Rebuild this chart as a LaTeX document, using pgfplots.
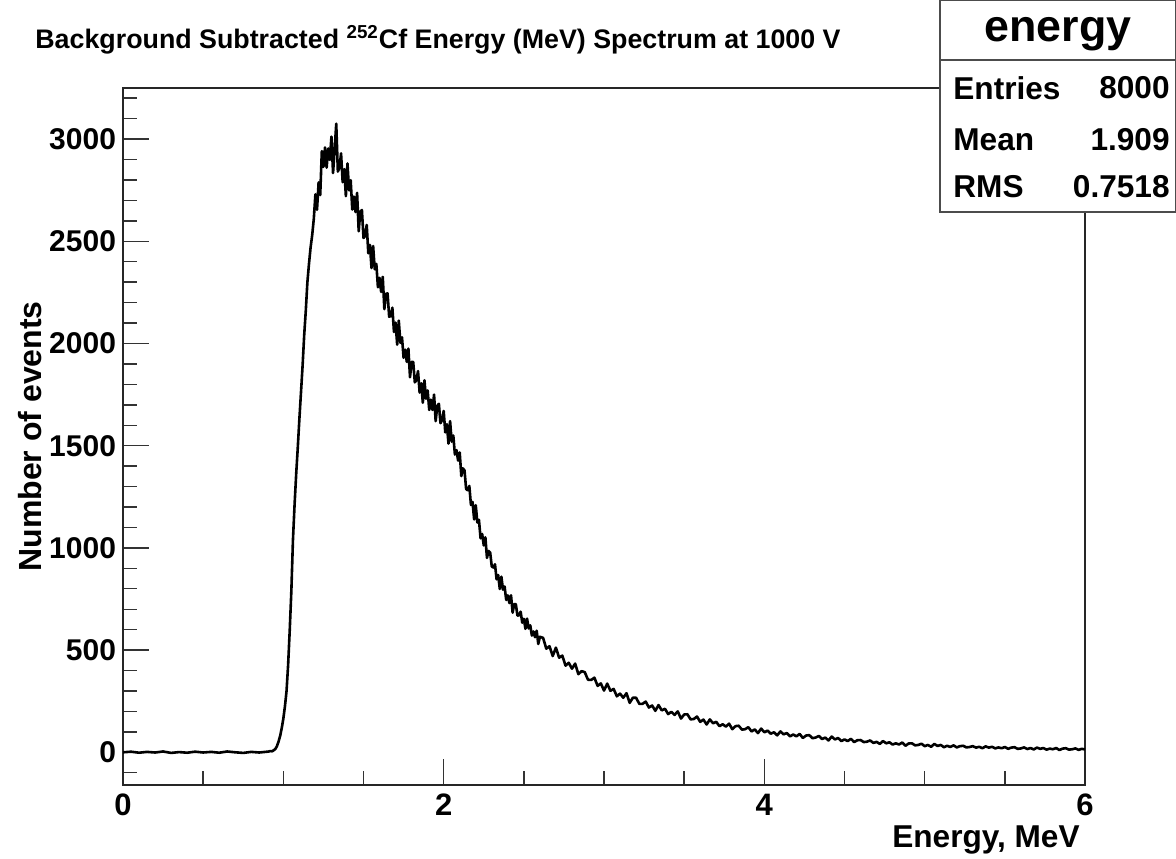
\documentclass[border=0pt]{standalone}
\usepackage{pgfplots}
\pgfplotsset{compat=1.18}
\usepackage{fontspec}
\setmainfont{Liberation Sans}
\pgfplotstableread{
x y
0.00 0
0.05 3
0.10 -2
0.15 2
0.20 -1
0.25 4
0.30 -3
0.35 1
0.40 -2
0.45 3
0.50 -1
0.55 2
0.60 -2
0.65 4
0.70 0
0.75 -3
0.80 2
0.85 -1
0.90 3
0.91 4
0.92 6
0.93 5
0.94 10
0.95 16
0.96 30
0.97 52
0.98 80
0.99 118
1.00 165
1.01 225
1.02 300
1.03 430
1.04 600
1.05 790
1.06 1040
1.07 1210
1.08 1360
1.09 1490
1.10 1630
1.11 1760
1.12 1890
1.13 2040
1.14 2160
1.15 2300
1.16 2390
1.17 2470
1.18 2530
1.19 2610
1.20 2730
1.21 2654
1.22 2788
1.23 2726
1.24 2941
1.25 2864
1.26 2959
1.27 2860
1.28 2954
1.29 2898
1.30 3012
1.31 2834
1.32 2950
1.33 3075
1.34 2841
1.35 2861
1.36 2930
1.37 2789
1.38 2853
1.39 2721
1.40 2881
1.41 2749
1.42 2799
1.43 2655
1.44 2719
1.45 2643
1.46 2737
1.47 2549
1.48 2645
1.49 2653
1.50 2516
1.51 2526
1.52 2580
1.53 2441
1.54 2482
1.55 2369
1.56 2477
1.57 2363
1.58 2389
1.59 2275
1.60 2321
1.61 2252
1.62 2326
1.63 2168
1.64 2243
1.65 2245
1.66 2131
1.67 2134
1.68 2175
1.69 2056
1.70 2102
1.71 1994
1.72 2112
1.73 2003
1.74 2030
1.75 1930
1.76 1970
1.77 1910
1.78 1975
1.79 1835
1.80 1910
1.81 1910
1.82 1810
1.83 1820
1.84 1865
1.85 1760
1.86 1805
1.87 1710
1.88 1820
1.89 1730
1.90 1770
1.91 1675
1.92 1725
1.93 1675
1.94 1750
1.95 1620
1.96 1695
1.97 1705
1.98 1610
1.99 1625
2.00 1670
2.01 1565
2.02 1605
2.03 1510
2.04 1620
2.05 1520
2.06 1550
2.07 1457
2.08 1478
2.09 1427
2.10 1467
2.11 1351
2.12 1389
2.13 1379
2.14 1288
2.15 1282
2.16 1303
2.17 1210
2.18 1225
2.19 1139
2.20 1209
2.21 1124
2.22 1137
2.23 1047
2.24 1068
2.25 1012
2.26 1052
2.27 951
2.28 985
2.29 977
2.30 909
2.31 904
2.32 920
2.33 846
2.34 867
2.35 799
2.36 859
2.37 796
2.38 811
2.39 745
2.40 768
2.41 730
2.42 768
2.43 683
2.44 725
2.45 725
2.46 669
2.47 670
2.48 688
2.49 634
2.50 653
2.51 604
2.52 654
2.53 606
2.54 621
2.55 571
2.56 591
2.57 563
2.58 595
2.59 530
2.60 565
2.62 560
2.64 507
2.66 519
2.68 471
2.70 512
2.72 463
2.74 473
2.76 424
2.78 438
2.80 409
2.82 434
2.84 382
2.86 397
2.88 392
2.90 355
2.92 354
2.94 365
2.96 325
2.98 337
3.00 302
3.02 336
3.04 301
3.06 310
3.08 274
3.10 287
3.12 267
3.14 289
3.16 242
3.18 267
3.20 267
3.22 237
3.24 237
3.26 248
3.28 219
3.30 229
3.32 203
3.34 231
3.36 205
3.38 213
3.40 187
3.42 198
3.44 183
3.46 200
3.48 165
3.50 185
3.52 186
3.54 161
3.56 163
3.58 175
3.60 149
3.62 160
3.64 136
3.66 161
3.68 142
3.70 149
3.72 128
3.74 137
3.76 126
3.78 140
3.80 113
3.82 128
3.84 130
3.86 111
3.88 113
3.90 123
3.92 102
3.94 112
3.96 94
3.98 116
4.00 98
4.02 106
4.04 91
4.06 98
4.08 83
4.10 102
4.12 88
4.14 94
4.16 78
4.18 87
4.20 78
4.22 90
4.24 70
4.26 82
4.28 84
4.30 69
4.32 72
4.34 80
4.36 65
4.38 72
4.40 58
4.42 77
4.44 63
4.46 70
4.48 55
4.50 63
4.52 55
4.54 66
4.56 50
4.58 59
4.60 60
4.62 50
4.64 52
4.66 58
4.68 46
4.70 51
4.72 41
4.74 55
4.76 44
4.78 49
4.80 38
4.82 44
4.84 38
4.86 48
4.88 32
4.90 43
4.92 44
4.94 34
4.96 36
4.98 42
5.00 30
5.02 36
5.04 27
5.06 41
5.08 31
5.10 36
5.12 25
5.14 32
5.16 26
5.18 34
5.20 24
5.22 30
5.24 32
5.26 24
5.28 26
5.30 30
5.32 23
5.34 27
5.36 20
5.38 29
5.40 23
5.42 27
5.44 19
5.46 24
5.48 20
5.50 26
5.52 17
5.54 23
5.56 25
5.58 17
5.60 19
5.62 24
5.64 16
5.66 21
5.68 14
5.70 23
5.72 17
5.74 21
5.76 13
5.78 18
5.80 15
5.82 21
5.84 11
5.86 18
5.88 20
5.90 13
5.92 15
5.94 19
5.96 12
5.98 17
6.00 14
}\spectrum
\begin{document}
\begin{tikzpicture}[x=0.5bp,y=0.5bp]
\useasboundingbox (-123,-73) rectangle (1053,785);
\begin{axis}[
  at={(0,0)}, anchor=south west,
  width=481bp, height=348.5bp, scale only axis,
  xmin=0, xmax=6, ymin=-160, ymax=3250,
  xtick={0,2,4,6}, minor xtick={0.5,1,1.5,2.5,3,3.5,4.5,5,5.5},
  ytick={0,500,1000,1500,2000,2500,3000},
  minor ytick={-100,0,...,3200},
  xtick pos=left, ytick pos=left,
  tick align=inside,
  major tick length=13bp, minor tick length=7bp,
  tick style={black!80, line width=0.7bp},
  axis line style={black!85, line width=1bp},
  /pgf/number format/assume math mode=true,
  /pgf/number format/1000 sep={},
  xticklabel style={font=\fontsize{15.5bp}{15.5bp}\selectfont\bfseries, yshift=-1bp},
  yticklabel style={font=\fontsize{15bp}{15bp}\selectfont\bfseries},
  xlabel={Energy, MeV},
  ylabel={Number of events},
  xlabel style={at={(axis description cs:0.9948,0)}, anchor=north east, inner sep=0pt, yshift=-20bp, font=\fontsize{15.8bp}{15.8bp}\selectfont\bfseries},
  ylabel style={at={(axis description cs:-0.0967,0.5)}, anchor=center, inner sep=0pt, font=\fontsize{16bp}{16bp}\selectfont\bfseries},
  clip=true,
]
\addplot[sharp plot, black, line width=1.3bp, line join=round] table {\spectrum};
\end{axis}
% title
\node[anchor=west, inner sep=0pt, font=\fontsize{13.4bp}{13.4bp}\selectfont\bfseries] at (-88,745) {Background Subtracted \textsuperscript{252}Cf Energy (MeV) Spectrum at 1000 V};
% stats box
\draw[fill=white, draw=black!70, line width=1bp] (817,573) rectangle (1053,785);
\draw[black!70, line width=1bp] (817,725) -- (1053,725);
\node[anchor=center, inner sep=0pt, font=\fontsize{22.4bp}{22.4bp}\selectfont\bfseries] at (935,751) {energy};
\node[anchor=west, inner sep=0pt, font=\fontsize{15.8bp}{15.8bp}\selectfont\bfseries] at (830,697) {Entries};
\node[anchor=east, inner sep=0pt, font=\fontsize{15.8bp}{15.8bp}\selectfont\bfseries] at (1047,697) {8000};
\node[anchor=west, inner sep=0pt, font=\fontsize{15.8bp}{15.8bp}\selectfont\bfseries] at (830,645) {Mean};
\node[anchor=east, inner sep=0pt, font=\fontsize{15.8bp}{15.8bp}\selectfont\bfseries] at (1047,645) {1.909};
\node[anchor=west, inner sep=0pt, font=\fontsize{15.8bp}{15.8bp}\selectfont\bfseries] at (830,598) {RMS};
\node[anchor=east, inner sep=0pt, font=\fontsize{15.8bp}{15.8bp}\selectfont\bfseries] at (1047,598) {0.7518};
\end{tikzpicture}
\end{document}
